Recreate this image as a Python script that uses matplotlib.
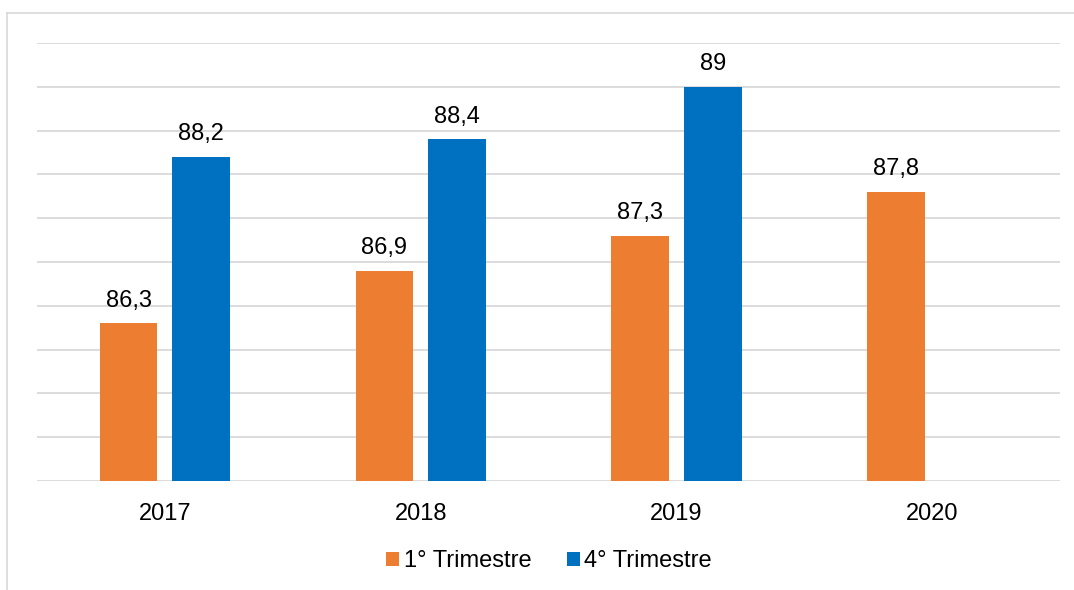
import numpy as np
import matplotlib.pyplot as plt
from matplotlib.lines import Line2D

plt.rcParams['font.family'] = ['Liberation Sans', 'DejaVu Sans']

years = ['2017', '2018', '2019', '2020']
q1_values = [86.3, 86.9, 87.3, 87.8]
q4_values = [88.2, 88.4, 89.0, np.nan]
series_names = ['1° Trimestre', '4° Trimestre']

ORANGE = '#ED7D31'
BLUE = '#0070C0'
GRID = '#d9d9d9'
FS = 17


def fmt(v):
    """Values with a decimal comma, no trailing ,0"""
    if v == int(v):
        return '%d' % v
    return ('%.1f' % v).replace('.', ',')


fig = plt.figure(figsize=(10.74, 5.90), dpi=100)
ax = fig.add_axes([0.0345, 0.1847, 0.9525, 0.7423])

x = np.arange(len(years))
width = 0.225
offset = 0.142

b1 = ax.bar(x - offset, q1_values, width, bottom=0, color=ORANGE, label=series_names[0], zorder=3)
b2 = ax.bar(x + offset, q4_values, width, bottom=0, color=BLUE, label=series_names[1], zorder=3)

for xs, vals in ((x - offset, q1_values), (x + offset, q4_values)):
    for xi, v in zip(xs, vals):
        if np.isnan(v):
            continue
        ax.annotate(fmt(v), (xi, v), xytext=(0, 8.5), textcoords='offset points',
                    ha='center', va='bottom', fontsize=FS, color='#000000')

ax.set_xlim(-0.5, 3.5)
ax.set_ylim(84.5, 89.5)
ax.set_yticks(np.arange(84.5, 89.51, 0.5))
ax.set_yticklabels([])
ax.tick_params(axis='y', length=0)
ax.set_xticks(x)
ax.set_xticklabels(years, fontsize=FS)
ax.tick_params(axis='x', length=0, pad=16)
ax.grid(axis='y', color=GRID, linewidth=1.3, zorder=0)
for s in ax.spines.values():
    s.set_visible(False)

fig.legend(handles=[b1, b2], labels=series_names, loc='center',
           bbox_to_anchor=(549 / 1074, 1 - 561 / 590), ncol=2, frameon=False,
           fontsize=FS, handlelength=0.55, handleheight=0.55, handletextpad=0.2,
           columnspacing=1.5)

# thin frame round the chart area (top and left edges visible)
fig.add_artist(Line2D([7 / 1074, 7 / 1074], [0, 1 - 13 / 590], transform=fig.transFigure,
                      color=GRID, linewidth=1.2))
fig.add_artist(Line2D([7 / 1074, 1], [1 - 13 / 590, 1 - 13 / 590], transform=fig.transFigure,
                      color=GRID, linewidth=1.2))

fig.savefig('out.png', dpi=100)
